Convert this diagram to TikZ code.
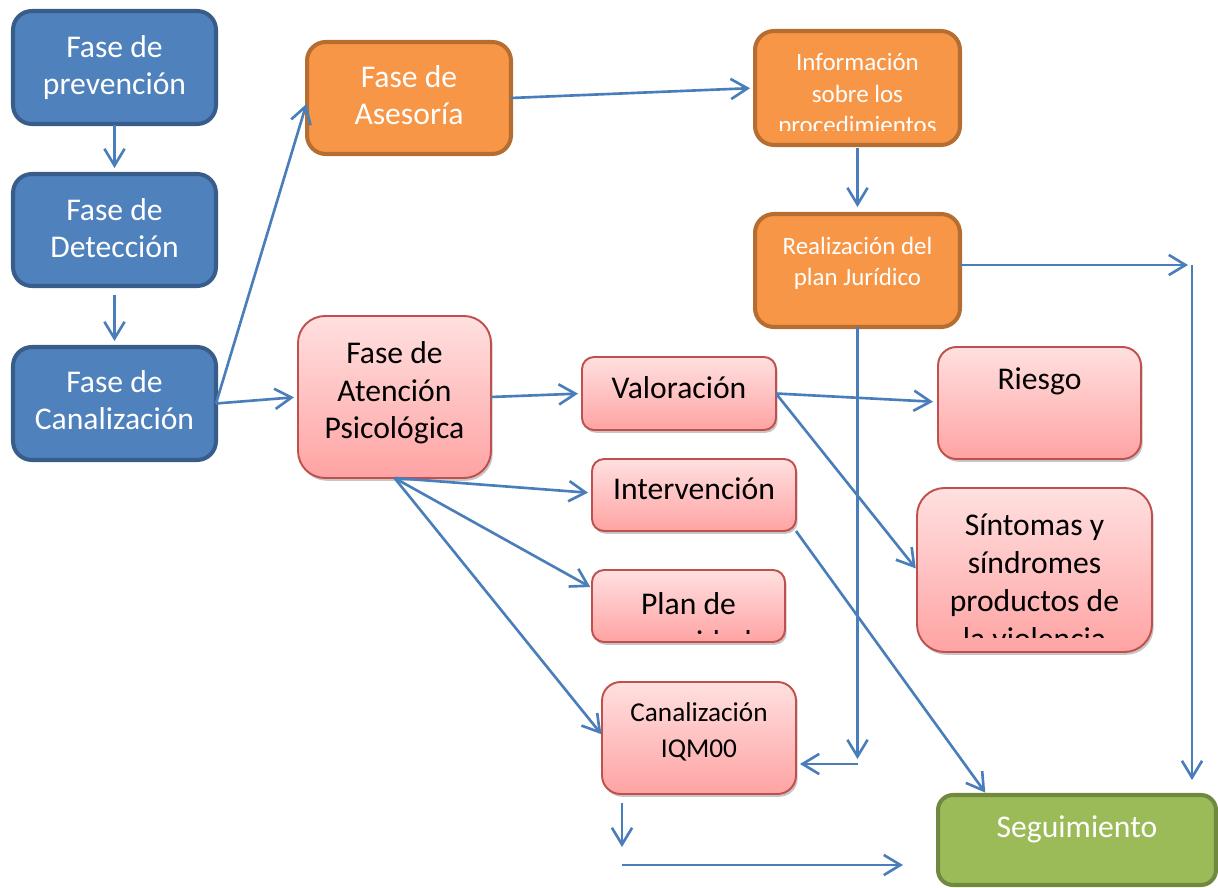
\documentclass[tikz,border=0pt]{standalone}
\usepackage{fontspec}
\setmainfont{Carlito}
\usetikzlibrary{arrows.meta,shadows}
\definecolor{bluefill}{HTML}{4F81BD}
\definecolor{blueline}{HTML}{385D8A}
\definecolor{orfill}{HTML}{F79646}
\definecolor{orline}{HTML}{B66D31}
\definecolor{pinktop}{HTML}{FFE0E0}
\definecolor{pinkbot}{HTML}{FFA3A3}
\definecolor{pinkline}{HTML}{C0504D}
\definecolor{grfill}{HTML}{9BBB59}
\definecolor{grline}{HTML}{71893F}
\definecolor{arrowc}{HTML}{4A7EBB}
\begin{document}
\begin{tikzpicture}[x=0.02cm,y=-0.02cm,
  box/.style={rectangle, inner sep=0, outer sep=0},
  bluebox/.style={box, fill=bluefill, draw=blueline, line width=2.3pt},
  orbox/.style={box, fill=orfill, draw=orline, line width=2.3pt},
  pinkbox/.style={box, top color=pinktop, bottom color=pinkbot, draw=pinkline, line width=1.1pt,
     drop shadow={shadow xshift=1pt, shadow yshift=-1.6pt, fill=black!50, opacity=0.45}},
  grbox/.style={box, fill=grfill, draw=grline, line width=2.3pt},
  wtxt/.style={inner sep=0, anchor=base, align=center, text=white, font=\fontsize{18}{21.5}\selectfont},
  wsmall/.style={inner sep=0, anchor=base, align=center, text=white, font=\fontsize{14.2}{18}\selectfont},
  btxt/.style={inner sep=0, anchor=base, align=center, text=black, font=\fontsize{18}{21.5}\selectfont},
  bmid/.style={inner sep=0, anchor=base, align=center, text=black, font=\fontsize{15.5}{20}\selectfont},
  arr/.style={draw=arrowc, line width=1.5pt, -{Straight Barb[length=9.5pt,width=11.5pt,line width=1.5pt]}},
]
\useasboundingbox (0,0) rectangle (1218,888);

% boxes
\node[bluebox, rounded corners=0.377cm, minimum width=4.06cm, minimum height=2.26cm] (b1) at (114.5,67.5) {};
\node[bluebox, rounded corners=0.377cm, minimum width=4.06cm, minimum height=2.24cm] (b2) at (114.5,230) {};
\node[bluebox, rounded corners=0.377cm, minimum width=4.06cm, minimum height=2.26cm] (b3) at (114.5,403.5) {};

\node[orbox, rounded corners=0.374cm, minimum width=4.08cm, minimum height=2.24cm] (ase) at (409,98) {};
\node[orbox, rounded corners=0.38cm, minimum width=4.10cm, minimum height=2.28cm] (inf) at (857.5,88) {};
\node[orbox, rounded corners=0.377cm, minimum width=4.10cm, minimum height=2.26cm] (rea) at (857.5,270.5) {};

\node[pinkbox, rounded corners=0.54cm, minimum width=3.86cm, minimum height=3.24cm] (psi) at (394.5,397) {};
\node[pinkbox, rounded corners=0.24cm, minimum width=3.88cm, minimum height=1.46cm] (val) at (679,393.5) {};
\node[pinkbox, rounded corners=0.24cm, minimum width=4.08cm, minimum height=1.44cm] (int) at (694,495) {};
\node[pinkbox, rounded corners=0.24cm, minimum width=3.86cm, minimum height=1.44cm] (pla) at (688.5,606) {};
\node[pinkbox, rounded corners=0.37cm, minimum width=3.88cm, minimum height=2.24cm] (iqm) at (699,738) {};
\node[pinkbox, rounded corners=0.37cm, minimum width=4.06cm, minimum height=2.24cm] (rie) at (1039.5,403) {};
\node[pinkbox, rounded corners=0.55cm, minimum width=4.70cm, minimum height=3.28cm] (sin) at (1034.5,570) {};

\node[grbox, rounded corners=0.30cm, minimum width=5.56cm, minimum height=1.80cm] (seg) at (1077,840) {};

% texts (anchor=base is the baseline of the last line)
\node[wtxt] (t1) at (114.5,95) {Fase de\\prevención};
\node[wtxt] (t2) at (114.5,258) {Fase de\\Detección};
\node[wtxt] (t3) at (114.5,430) {Fase de\\Canalización};
\node[wtxt] (t4) at (409,125) {Fase de\\Asesoría};
\begin{scope}
  \clip (755,31) rectangle (960,131);
  \node[wsmall] (t5) at (857.5,134) {Información\\sobre los\\procedimientos};
\end{scope}
\node[wsmall] (t6) at (857.5,286) {Realización del\\plan Jurídico};
\node[btxt] (t7) at (394.5,439) {Fase de\\Atención\\Psicológica};
\node[btxt] (t8) at (679,399) {Valoración};
\node[btxt] (t9) at (694,500) {Intervención};
\begin{scope}
  \clip (592,570) rectangle (785,634);
  \node[btxt] (t10) at (688.5,652) {Plan de\\seguridad};
\end{scope}
\node[bmid] (t11) at (699,757) {Canalización\\IQM00};
\node[btxt] (t12) at (1039.5,390) {Riesgo};
\begin{scope}
  \clip (917,488) rectangle (1152,638);
  \node[btxt] (t13) at (1034.5,649) {Síntomas y\\síndromes\\productos de\\la violencia};
\end{scope}
\node[wtxt] (t14) at (1077,837) {Seguimiento};

% helper coordinates
\coordinate (c1) at (1192,265);
\coordinate (c3) at (857.5,764);
\coordinate (c4) at (622,803);
\coordinate (c5) at (622,847);
\coordinate (c6) at (622,865);
\coordinate (c7) at (903,865);

% connectors
\draw[arr, shorten <=0.02cm, shorten >=0.12cm] (b1.south) -- (b2.north);
\draw[arr, shorten <=0.18cm, shorten >=0.12cm] (b2.south) -- (b3.north);
\draw[arr, shorten >=0.04cm] (b3.east) -- ([yshift=-0.08cm]ase.west);
\draw[arr, shorten >=0.08cm] (b3.east) -- (psi.west);
\draw[arr, shorten >=0.1cm] (ase.east) -- (inf.west);
\draw[arr, shorten <=0.06cm, shorten >=0.14cm] (inf.south) -- (rea.north);
\draw[arr, shorten >=0.08cm] (rea.east |- c1) -- (c1);
\draw[arr, shorten >=0.3cm] (c1) -- (c1 |- seg.north);
\draw[arr, shorten >=0.1cm] (rea.south) -- (c3);
\draw[arr, shorten >=0.08cm] (c3) -- (iqm.east |- c3);
\draw[arr, shorten >=0.08cm] (psi.east) -- (val.west);
\draw[arr, shorten >=0.1cm] (val.east) -- ([yshift=0.02cm]rie.west);
\draw[arr, shorten >=0.04cm] (val.east) -- (sin.west);
\draw[arr, shorten >=0.08cm] (psi.south) -- ([yshift=0.04cm]int.west);
\draw[arr, shorten >=0.04cm] (psi.south) -- ([yshift=0.36cm]pla.west);
\draw[arr, shorten >=0.02cm] (psi.south) -- ([yshift=0.06cm]iqm.west);
\draw[arr, shorten >=0.06cm] (int.south east) -- ([xshift=0.98cm]seg.north west);
\draw[arr] (c4) -- (c5);
\draw[arr] (c6) -- (c7);
\end{tikzpicture}
\end{document}
